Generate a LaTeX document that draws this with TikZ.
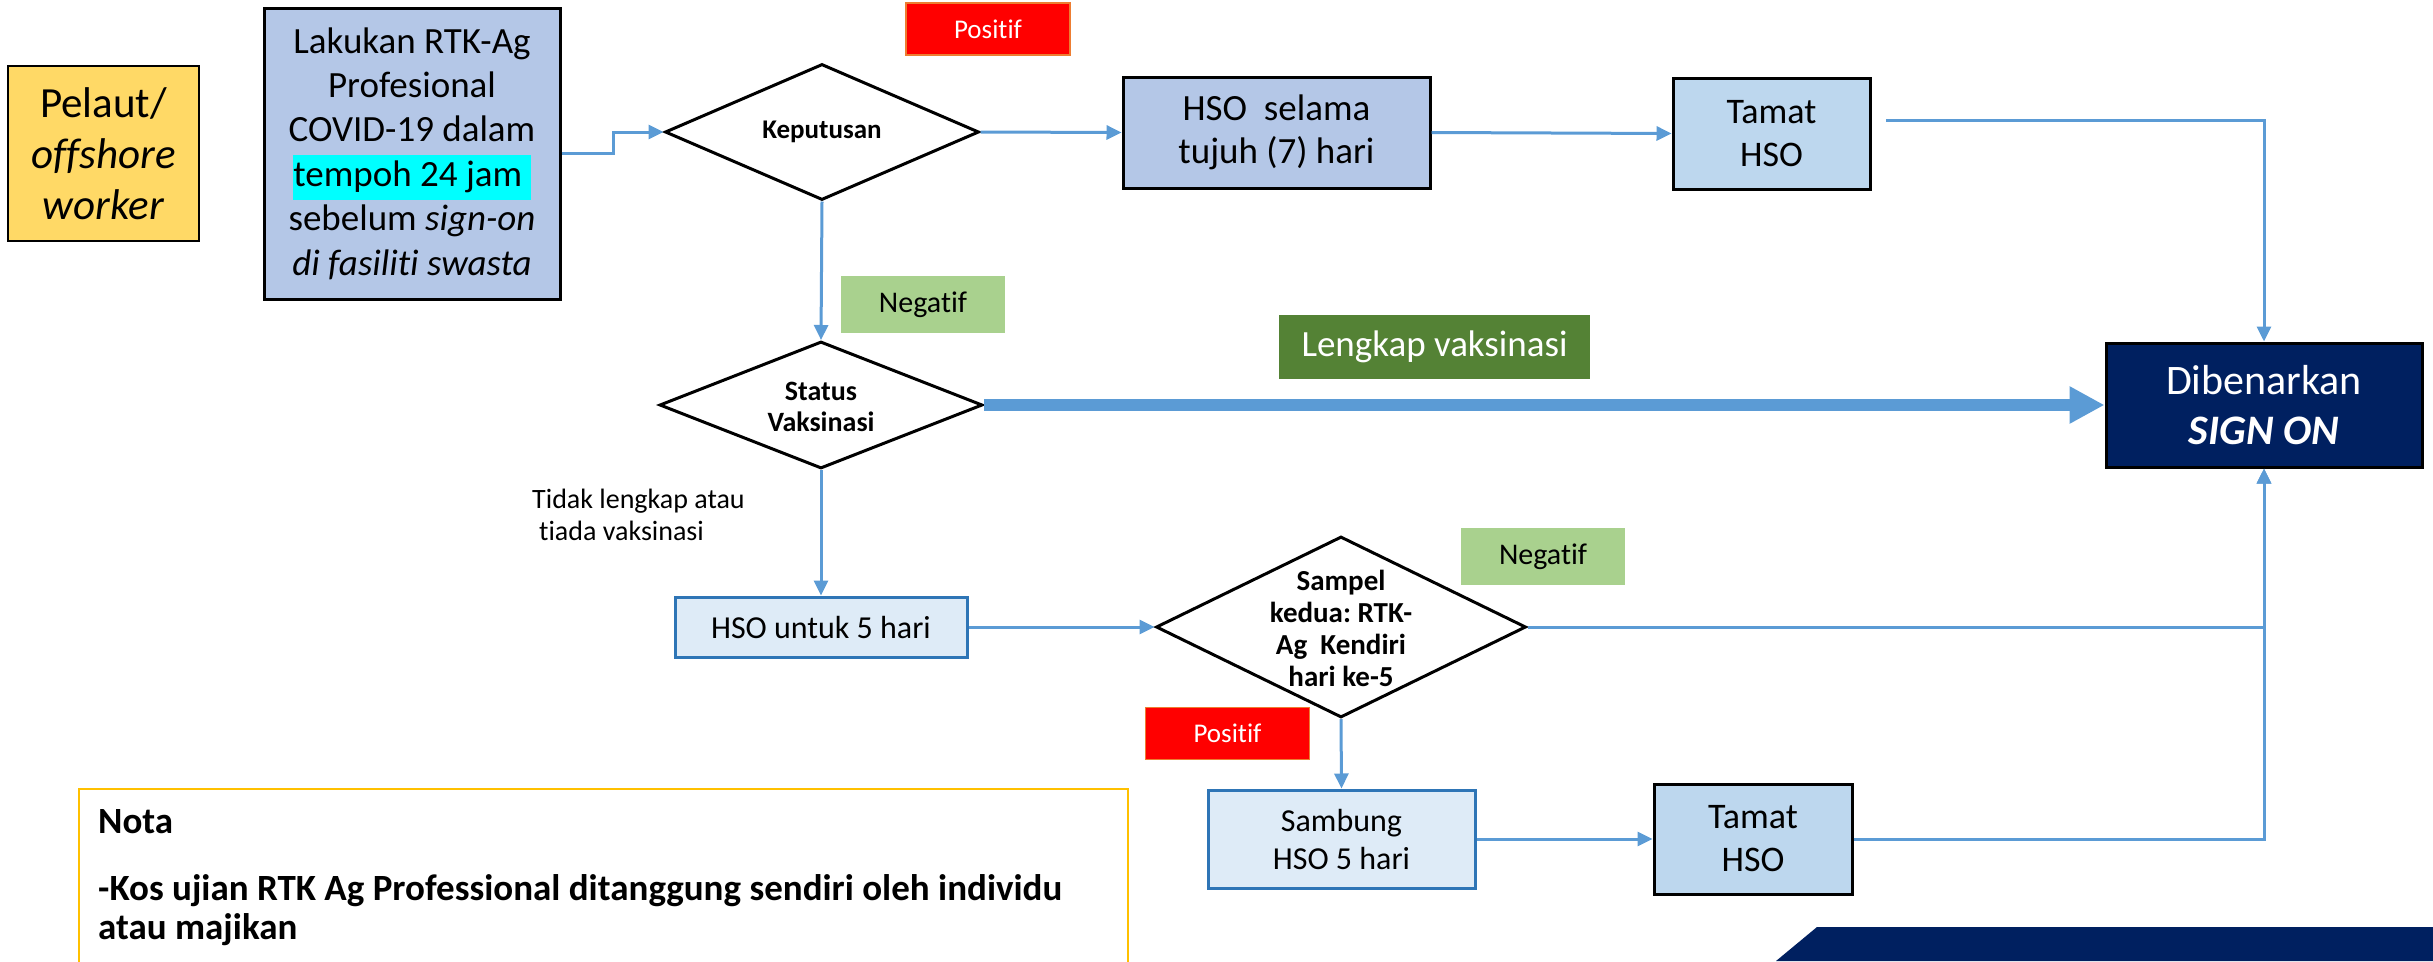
\documentclass[tikz,border=0pt]{standalone}
\usepackage{fontspec}
\setmainfont{Carlito}[Ligatures=NoCommon]
\usetikzlibrary{arrows.meta,shapes.geometric}
\definecolor{connblue}{HTML}{5B9BD5}
\definecolor{pelautyellow}{HTML}{FFD966}
\definecolor{boxblue}{HTML}{B4C7E7}
\definecolor{tamatblue}{HTML}{BDD7EE}
\definecolor{paleblue}{HTML}{DEEBF7}
\definecolor{paleborder}{HTML}{2E75B6}
\definecolor{posred}{HTML}{FF0000}
\definecolor{posborder}{HTML}{ED7D31}
\definecolor{neggreen}{HTML}{A9D18E}
\definecolor{darkgreen}{HTML}{548235}
\definecolor{navy}{HTML}{002060}
\definecolor{notayellow}{HTML}{FFC000}
\definecolor{hlcyan}{HTML}{00FFFF}
\newcommand\fsz[2]{\fontsize{#1}{#2}\selectfont}
\tikzset{
  box/.style={draw=black, line width=3pt, inner sep=0pt, align=center},
  palebox/.style={draw=paleborder, fill=paleblue, line width=3pt, inner sep=0pt, align=center},
  dia/.style={diamond, draw=black, fill=white, line width=3pt, inner sep=0pt},
  lab/.style={inner sep=0pt, align=center},
  poslab/.style={lab, fill=posred, draw=posborder, line width=1.5pt, text=white, minimum width=164pt, minimum height=52pt, font=\fsz{27}{30}},
  neglab/.style={lab, fill=neggreen, minimum width=164pt, minimum height=57pt, font=\fsz{30}{34}},
  conn/.style={draw=connblue, line width=3pt},
  arr/.style={-{Triangle[length=15pt,width=14pt]}},
}
\begin{document}
\begin{tikzpicture}[x=1pt,y=-1pt]
\useasboundingbox (0,0) rectangle (2433,961);
% nodes
\node[box, line width=2pt, fill=pelautyellow, minimum width=191pt, minimum height=175pt, font=\fsz{43}{51}] (pelaut) at (103.5,153.5) {Pelaut/\\\textit{offshore}\\\textit{worker}};
\node[box, fill=boxblue, minimum width=296pt, minimum height=291pt, font=\fsz{37}{44.4}] (rtk) at (412,153.5) {Lakukan RTK-Ag\\Profesional\\COVID-19 dalam\\{\setlength\fboxsep{0pt}\colorbox{hlcyan}{\strut tempoh 24 jam\ }}\\sebelum \textit{sign-on}\\\textit{di fasiliti swasta}};
\node[dia, minimum width=314pt, minimum height=136pt] (kep) at (822,132) {};
\node[lab, font=\bfseries\fsz{27}{30}] (keptext) at (kep.center) {Keputusan};
\node[box, fill=boxblue, minimum width=307pt, minimum height=111pt, font=\fsz{37}{43}] (hso7) at (1276.5,132.5) {HSO~ selama\\tujuh (7) hari};
\node[box, fill=tamatblue, minimum width=197pt, minimum height=111pt, font=\fsz{36}{43}] (tamat1) at (1771.5,133.5) {Tamat\\HSO};
\node[box, fill=navy, text=white, minimum width=316pt, minimum height=124pt, font=\fsz{42}{50}] (signon) at (2264,405) {Dibenarkan\\\textbf{\textit{SIGN ON}}};
\node[dia, minimum width=323pt, minimum height=127pt] (stat) at (821,405) {};
\node[lab, font=\bfseries\fsz{28}{31}] (stattext) at (821,407) {Status\\Vaksinasi};
\node[palebox, minimum width=292pt, minimum height=60pt, font=\fsz{32}{38}] (hso5) at (821,627) {HSO untuk 5 hari};
\node[dia, minimum width=370pt, minimum height=181pt] (sampel) at (1341,627) {};
\node[lab, font=\bfseries\fsz{29}{32}] (sampeltext) at (1341,628) {Sampel\\kedua:~RTK-\\Ag~ Kendiri\\hari ke-5};
\node[palebox, minimum width=267pt, minimum height=98pt, font=\fsz{32}{38}] (sambung) at (1341.5,839) {Sambung\\HSO 5 hari};
\node[box, fill=tamatblue, minimum width=198pt, minimum height=110pt, font=\fsz{36}{43}] (tamat2) at (1753,839) {Tamat\\HSO};
% labels
\node[poslab] (pos1) at (988,29) {Positif};
\node[neglab] (neg1) at (923,304.5) {Negatif};
\node[lab, fill=darkgreen, text=white, minimum width=311pt, minimum height=64pt, font=\fsz{37}{40}] (lengkap) at (1434.5,347) {Lengkap vaksinasi};
\node[neglab] (neg2) at (1543,556.5) {Negatif};
\node[poslab] (pos2) at (1227.5,733.5) {Positif};
\node[lab, anchor=base west, font=\fsz{28}{32}] (tidak1) at (532,508) {Tidak lengkap atau};
\node[lab, anchor=base west, font=\fsz{28}{32}] (tidak2) at (539,540) {tiada vaksinasi};
% connectors
\draw[conn,arr] (rtk.east) -- ++(52,0) |- (kep.west);
\draw[conn,arr] (kep.east) -- (hso7.west);
\draw[conn,arr] (hso7.east) -- (tamat1.west);
\coordinate (t1out) at (1886,120);
\draw[conn,arr] (t1out) -| (signon.north);
\draw[conn,arr] (kep.south) -- (stat.north);
\draw[draw=connblue, line width=12pt, -{Triangle[length=35pt,width=35pt]}] (stat.east) -- (signon.west);
\draw[conn,arr] (stat.south) -- (hso5.north);
\draw[conn,arr] (hso5.east) -- (sampel.west);
\draw[conn,arr] (sampel.east) -| (signon.south);
\draw[conn,arr] (sampel.south) -- (sambung.north);
\draw[conn,arr] (sambung.east) -- (tamat2.west);
\draw[conn,arr] (tamat2.east) -| (signon.south);
% nota
\node[draw=notayellow, line width=2pt, inner sep=0pt, minimum width=1049pt, minimum height=220pt, anchor=north west] (nota) at (78,788) {};
\node[lab, anchor=base west, font=\bfseries\fsz{37}{37}] (notatitle) at (98,833) {Nota};
\node[lab, anchor=base west, font=\bfseries\fsz{37}{37}] (nota1) at (98,900) {-Kos ujian RTK Ag Professional ditanggung sendiri oleh individu};
\node[lab, anchor=base west, font=\bfseries\fsz{37}{37}] (nota2) at (98,939) {atau majikan};
% bottom band
\fill[navy] (1817,927) -- (2433,927) -- (2433,961) -- (1776,961) -- cycle;
\end{tikzpicture}
\end{document}
